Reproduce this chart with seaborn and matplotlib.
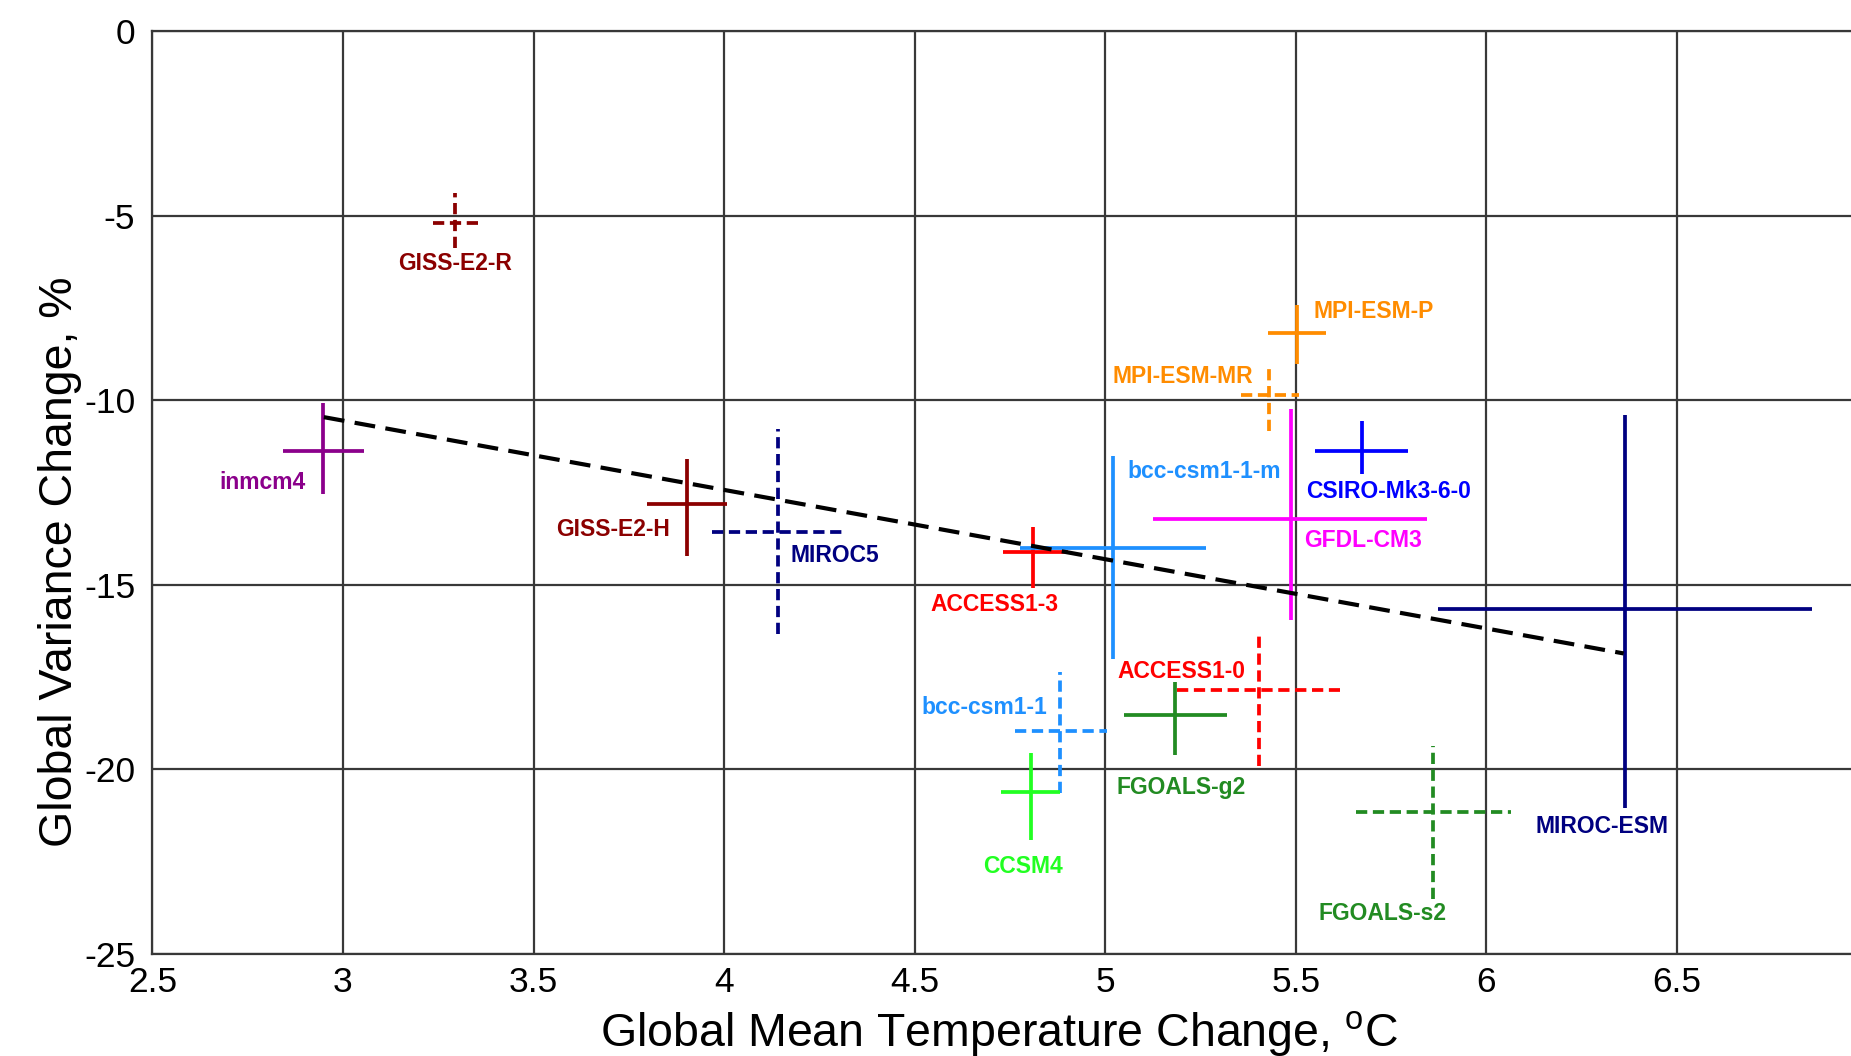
import numpy as np
import pandas as pd
import matplotlib
matplotlib.use('Agg')
import matplotlib.pyplot as plt
import seaborn as sns

# ========== Dati ==========

modelli = ['GISS-E2-R', 'inmcm4', 'GISS-E2-H', 'MIROC5', 'ACCESS1-3', 'bcc-csm1-1-m',
           'GFDL-CM3', 'MPI-ESM-P', 'MPI-ESM-MR', 'CSIRO-Mk3-6-0', 'MIROC-ESM',
           'ACCESS1-0', 'FGOALS-g2', 'bcc-csm1-1', 'CCSM4', 'FGOALS-s2']

temp = [3.295, 2.948, 3.903, 4.141, 4.81, 5.02, 5.486, 5.503, 5.43, 5.673, 6.363,
        5.404, 5.183, 4.882, 4.805, 5.861]
temp_min = [3.237, 2.844, 3.799, 3.968, 4.732, 4.776, 5.125, 5.428, 5.356, 5.55, 5.874,
            5.187, 5.05, 4.763, 4.726, 5.659]
temp_max = [3.358, 3.055, 4.008, 4.317, 4.902, 5.264, 5.843, 5.58, 5.508, 5.794, 6.853,
            5.617, 5.318, 5.004, 4.881, 6.064]

varianza = [-5.2, -11.37, -12.81, -13.56, -14.11, -14.01, -13.22, -8.17, -9.86, -11.39,
            -15.65, -17.84, -18.54, -18.97, -20.61, -21.15]
var_alto = [-4.38, -10.07, -11.6, -10.78, -13.44, -11.52, -10.23, -7.43, -9.05, -10.56,
            -10.39, -16.32, -17.62, -17.36, -19.55, -19.37]
var_basso = [-5.88, -12.54, -14.22, -16.34, -15.1, -17.02, -15.96, -9.03, -10.84, -11.99,
             -21.04, -19.92, -19.62, -20.64, -21.92, -23.52]

tratteggiato = [True, False, False, True, False, False, False, False, True, False, False,
                True, False, True, False, True]

colori = ['#8B0000', '#8B008B', '#8B0000', '#000080', '#FF0000', '#1E90FF', '#FF00FF',
          '#FF8C00', '#FF8C00', '#0000FF', '#000080', '#FF0000', '#228B22', '#1E90FF',
          '#22FF22', '#228B22']

etichetta_x = [3.295, 2.79, 3.709, 4.29, 4.708, 5.259, 5.675, 5.705, 5.204, 5.742, 6.303,
               5.20, 5.20, 4.684, 4.785, 5.728]
etichetta_y = [-6.3, -12.23, -13.5, -14.22, -15.53, -11.94, -13.81, -7.61, -9.37, -12.47,
               -21.56, -17.34, -20.48, -18.33, -22.62, -23.91]

retta_x = [2.95, 6.36]
retta_y = [-10.46, -16.86]

x_ticks = [2.5, 3, 3.5, 4, 4.5, 5, 5.5, 6, 6.5]
y_ticks = [0, -5, -10, -15, -20, -25]

# ========== Grafico ==========

def costruisci_dataframe():
    return pd.DataFrame({
        'Model': modelli, 'dT': temp, 'dT_min': temp_min, 'dT_max': temp_max,
        'dV': varianza, 'dV_hi': var_alto, 'dV_lo': var_basso,
        'dashed': tratteggiato, 'color': colori,
        'lx': etichetta_x, 'ly': etichetta_y,
    })


def disegna_croci(ax, df):
    for _, r in df.iterrows():
        xerr = np.array([[r['dT'] - r['dT_min']], [r['dT_max'] - r['dT']]])
        yerr = np.array([[r['dV'] - r['dV_lo']], [r['dV_hi'] - r['dV']]])
        eb = ax.errorbar([r['dT']], [r['dV']], xerr=xerr, yerr=yerr, fmt='none',
                         ecolor=r['color'], elinewidth=2.7, capsize=0, zorder=3)
        if r['dashed']:
            for c in eb[2]:
                c.set_linestyle((0, (3, 1.5)))
        ax.text(r['lx'], r['ly'], r['Model'], color=r['color'], fontsize=16.5,
                fontweight='bold', ha='center', va='center', zorder=5)


def main():
    sns.set_style('whitegrid')
    plt.rcParams['font.family'] = ['Liberation Sans', 'DejaVu Sans']
    plt.rcParams['mathtext.fontset'] = 'custom'
    plt.rcParams['mathtext.rm'] = 'Liberation Sans'

    df = costruisci_dataframe()

    fig = plt.figure(figsize=(18.51, 10.56), dpi=100)
    ax = fig.add_axes([0.0823, 0.0966, 0.9267, 0.8741])

    disegna_croci(ax, df)

    sns.lineplot(x=retta_x, y=retta_y, ax=ax, color='black', linewidth=3.0,
                 dashes=False, zorder=4)
    ax.lines[-1].set_linestyle((0, (5, 2.5)))

    ax.set_xlim(2.5, 7.0)
    ax.set_ylim(-25, 0)
    ax.set_xticks(x_ticks)
    ax.set_xticklabels([f'{v:g}' for v in x_ticks])
    ax.set_yticks(y_ticks)
    ax.set_yticklabels([f'{v:g}' for v in y_ticks])

    ax.grid(True, color='#383838', linewidth=1.6)
    for lato in ['left', 'bottom', 'top', 'right']:
        ax.spines[lato].set_color('#383838')
        ax.spines[lato].set_linewidth(1.6)
    ax.tick_params(axis='both', which='major', labelsize=25.5, length=6.3, width=1.6,
                   color='#383838', labelcolor='black', direction='out')
    ax.tick_params(axis='x', pad=2)
    ax.tick_params(axis='y', pad=6)

    ax.set_xlabel('Global Mean Temperature Change, $^{\\mathrm{o}}$C', fontsize=33.5,
                  color='black')
    ax.set_ylabel('Global Variance Change, %', fontsize=33.5, color='black')
    ax.xaxis.set_label_coords(0.4934, -0.060)
    ax.yaxis.set_label_coords(-0.041, 0.4247)

    plt.savefig('out.png', dpi=100)
    plt.close()


if __name__ == "__main__":
    main()
